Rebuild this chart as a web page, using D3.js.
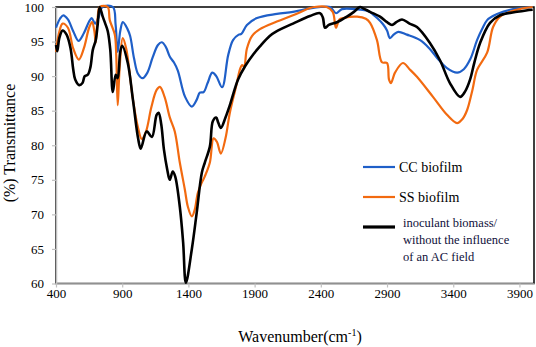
<!DOCTYPE html>
<html>
<head>
<meta charset="utf-8">
<script src="https://cdn.jsdelivr.net/npm/d3@7"></script>
<style>
  body { margin: 0; background: #fff; }
</style>
</head>
<body>
<div id="d3"></div>
<script>
// tick labels
const xTicks = [400, 900, 1400, 1900, 2400, 2900, 3400, 3900];
const yTicks = [60, 65, 70, 75, 80, 85, 90, 95, 100];

// series: [wavenumber, % transmittance]
const ccBiofilm = [
  [400, 97.0], [430, 98.3], [455, 98.8], [490, 98.2], [530, 96.5], [570, 95.1], [610, 96.2],
  [650, 97.9], [670, 98.4], [695, 97.6], [720, 98.4], [750, 100], [830, 100], [850, 97.5],
  [866, 93.5], [885, 96.5], [905, 97.8], [940, 96.8], [960, 95.8], [990, 92.5], [1020, 90.3],
  [1055, 89.7], [1090, 90.5], [1130, 92.7], [1170, 94.5], [1200, 94.9], [1230, 94.2],
  [1260, 92.8], [1290, 92.0], [1320, 90.8], [1375, 87.0], [1426, 85.6], [1463, 86.6],
  [1486, 87.6], [1515, 87.7], [1545, 89.0], [1580, 90.5], [1610, 90.0], [1655, 88.4],
  [1700, 93.0], [1737, 95.2], [1780, 96.0], [1800, 96.1], [1842, 97.4], [1918, 98.4],
  [2068, 99.0], [2190, 99.3], [2318, 99.8], [2400, 100], [2470, 100], [2515, 99.1],
  [2560, 99.7], [2700, 99.6], [2760, 99.4], [2825, 98.4], [2870, 97.5], [2900, 96.6],
  [2922, 95.5], [2950, 96.0], [2985, 96.4], [3050, 96.0], [3150, 95.2], [3220, 94.0],
  [3280, 92.6], [3350, 91.2], [3430, 90.5], [3480, 91.0], [3530, 92.5], [3580, 95.2],
  [3620, 96.9], [3656, 98.1], [3700, 98.7], [3731, 99.0], [3830, 99.6], [3900, 99.8], [4000, 100]
];

const ssBiofilm = [
  [400, 93.5], [420, 96.0], [450, 97.6], [490, 97.0], [530, 94.0], [572, 92.4], [610, 94.0],
  [650, 97.0], [672, 97.8], [690, 96.5], [700, 94.8], [715, 98.5], [730, 100], [790, 100],
  [806, 98.1], [844, 96.0], [855, 93.0], [866, 85.8], [880, 91.0], [904, 95.5], [930, 94.0],
  [981, 86.6], [1020, 82.5], [1048, 80.9], [1080, 82.0], [1120, 85.5], [1160, 88.0],
  [1185, 88.45], [1220, 87.0], [1260, 84.0], [1297, 82.0], [1335, 77.5], [1373, 73.6],
  [1396, 71.1], [1426, 69.7], [1448, 70.7], [1471, 73.1], [1501, 74.6], [1524, 75.5],
  [1562, 77.5], [1590, 81.0], [1615, 80.5], [1645, 78.8], [1680, 81.0], [1713, 84.7],
  [1760, 88.5], [1790, 91.0], [1805, 91.6], [1820, 91.4], [1842, 94.0], [1880, 95.8],
  [1940, 96.8], [2068, 97.9], [2190, 98.8], [2318, 99.85], [2350, 100], [2444, 100],
  [2490, 99.3], [2514, 97.0], [2540, 98.2], [2568, 98.4], [2674, 98.6], [2740, 98.3],
  [2772, 97.7], [2824, 95.2], [2862, 92.0], [2900, 91.9], [2915, 89.5], [2930, 89.0],
  [2960, 90.5], [3020, 91.9], [3070, 91.0], [3126, 89.9], [3247, 87.0], [3353, 84.4],
  [3429, 83.2], [3470, 83.8], [3505, 85.1], [3545, 88.0], [3580, 90.9], [3656, 93.4],
  [3701, 97.1], [3754, 98.6], [3830, 99.3], [3900, 99.7], [4000, 100]
];

const inoculant = [
  [400, 94.5], [410, 93.6], [425, 95.5], [450, 96.6], [480, 96.0], [510, 94.0], [530, 91.0],
  [545, 89.5], [575, 88.7], [600, 89.0], [617, 90.0], [640, 90.2], [660, 91.3], [678, 93.8],
  [700, 95.2], [715, 97.5], [730, 100], [753, 98.6], [770, 97.7], [791, 96.5], [810, 93.8],
  [829, 87.7], [851, 90.2], [866, 89.7], [885, 93.5], [900, 94.4], [942, 91.9], [981, 86.6],
  [1020, 81.0], [1040, 79.5], [1085, 82.0], [1124, 81.2], [1160, 84.4], [1175, 84.7],
  [1195, 83.0], [1215, 79.4], [1240, 76.5], [1259, 75.0], [1282, 76.2], [1300, 75.5],
  [1335, 71.1], [1360, 66.0], [1381, 60.1], [1426, 65.0], [1463, 70.3], [1501, 76.0],
  [1524, 77.5], [1562, 79.8], [1585, 83.5], [1610, 84.0], [1625, 83.3], [1645, 82.5],
  [1680, 84.0], [1713, 85.8], [1775, 89.5], [1830, 91.5], [1888, 93.1], [1940, 94.3],
  [2014, 95.8], [2068, 96.5], [2190, 97.6], [2318, 98.7], [2394, 99.1], [2415, 98.5],
  [2432, 97.0], [2460, 97.4], [2522, 97.8], [2597, 98.6], [2650, 99.3], [2696, 100],
  [2720, 99.8], [2772, 99.3], [2847, 98.6], [2900, 97.8], [2938, 97.4], [2970, 97.8],
  [3013, 98.2], [3070, 97.6], [3126, 97.1], [3224, 94.8], [3300, 92.3], [3375, 89.0],
  [3452, 87.0], [3490, 87.8], [3527, 89.5], [3560, 92.0], [3603, 94.8], [3678, 97.7],
  [3754, 98.8], [3882, 99.3], [3950, 99.5], [4000, 99.6]
];

const FONT = "Liberation Serif";
const width = 536;
const height = 347;
const margin = { top: 7, right: 2, bottom: 63.5, left: 56 };

const svg = d3
  .select("#d3")
  .append("svg")
  .attr("width", width)
  .attr("height", height)
  .attr("font-family", FONT);

const innerW = width - margin.left - margin.right;
const innerH = height - margin.top - margin.bottom;

const g = svg.append("g").attr("transform", `translate(${margin.left},${margin.top})`);

const x = d3.scaleLinear().domain([400, 4010]).range([0, innerW]);
const y = d3.scaleLinear().domain([60, 100]).range([innerH, 0]);

// plot frame (black top / right)
g.append("rect")
  .attr("x", 0)
  .attr("y", 0)
  .attr("width", innerW)
  .attr("height", innerH)
  .attr("fill", "none")
  .attr("stroke", "#000")
  .attr("stroke-width", 1.5);

const yAxis = g.append("g")
  .call(d3.axisLeft(y).tickValues(yTicks).tickSize(4).tickPadding(8).tickSizeOuter(0));
const xAxis = g.append("g")
  .attr("transform", `translate(0,${innerH})`)
  .call(d3.axisBottom(x).tickValues(xTicks).tickFormat(d3.format("d")).tickSize(4).tickPadding(1).tickSizeOuter(0));

[yAxis, xAxis].forEach((a) => {
  a.attr("font-family", FONT).attr("font-size", 13);
  a.select(".domain").attr("stroke", "#c0c0c0").attr("stroke-width", 1.5);
  a.selectAll(".tick line").attr("stroke", "#c0c0c0").attr("stroke-width", 1.2);
  a.selectAll("text").attr("fill", "#000");
});

const line = d3.line()
  .x((d) => x(d[0]))
  .y((d) => y(d[1]))
  .curve(d3.curveCatmullRom.alpha(0.5));

const series = [
  { name: "CC biofilm", data: ccBiofilm, color: "#1f5fc8", w: 2.2 },
  { name: "SS biofilm", data: ssBiofilm, color: "#f26a10", w: 2.2 },
  { name: "inoculant", data: inoculant, color: "#000000", w: 2.6 }
];

series.forEach((s) => {
  g.append("path")
    .datum(s.data)
    .attr("fill", "none")
    .attr("stroke", s.color)
    .attr("stroke-width", s.w)
    .attr("stroke-linejoin", "round")
    .attr("d", line);
});

// axis titles
svg.append("text")
  .attr("transform", "translate(15,143) rotate(-90)")
  .attr("text-anchor", "middle")
  .attr("font-size", 16)
  .text("(%) Transmittance");

const xt = svg.append("text")
  .attr("x", 300)
  .attr("y", 342)
  .attr("text-anchor", "middle")
  .attr("font-size", 16);
xt.append("tspan").text("Wavenumber(cm");
xt.append("tspan").attr("dy", -6).attr("font-size", 10).text("-1");
xt.append("tspan").attr("dy", 6).text(")");

// legend
const legend = svg.append("g");
const legendRows = [
  { color: "#1f5fc8", w: 2.2, y: 167, lines: ["CC biofilm"], size: 14, weight: "normal", fill: "#000" },
  { color: "#f26a10", w: 2.2, y: 197, lines: ["SS biofilm"], size: 14, weight: "normal", fill: "#000" },
  { color: "#000000", w: 3.2, y: 227, lines: ["inoculant biomass/", "without the influence", "of an AC field"], size: 12.5, weight: "normal", fill: "#10103a" }
];
legendRows.forEach((r) => {
  legend.append("line")
    .attr("x1", 363).attr("x2", 395)
    .attr("y1", r.y).attr("y2", r.y)
    .attr("stroke", r.color)
    .attr("stroke-width", r.w);
  const multi = r.lines.length > 1;
  r.lines.forEach((t, i) => {
    legend.append("text")
      .attr("x", multi ? 403 : 399)
      .attr("y", multi ? 227 + i * 17 : r.y + 5)
      .attr("font-size", r.size)
      .attr("font-weight", r.weight)
      .attr("fill", r.fill)
      .text(t);
  });
});
</script>
</body>
</html>
